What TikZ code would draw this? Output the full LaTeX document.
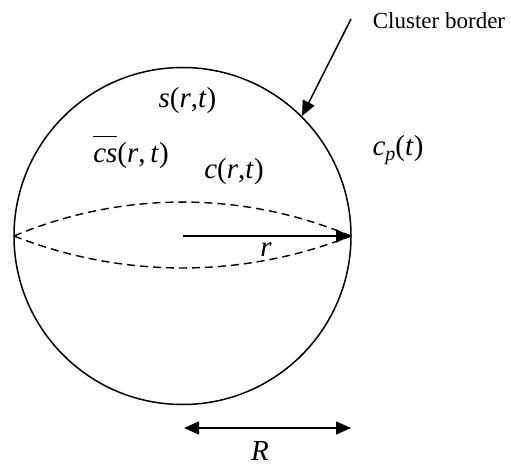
\documentclass[tikz,border=0pt]{standalone}
\usepackage{fontspec}
\setmainfont{Liberation Serif}
\usetikzlibrary{arrows.meta}
\tikzset{
  line/.style={line width=1.5pt},
  lbl/.style={inner sep=0pt, font=\fontsize{29}{32}\selectfont},
  small/.style={inner sep=0pt, font=\fontsize{23}{27}\selectfont},
  tip/.style={-{Triangle[length=15pt,width=13pt]}},
  dashline/.style={line width=1.4pt, dash pattern=on 8pt off 5pt}
}
\newcommand{\vi}[1]{\textit{#1}}
\begin{document}
\begin{tikzpicture}[x=1pt,y=-1pt]
\useasboundingbox (0,0) rectangle (511,468);
\coordinate (O) at (182.5,236);
\coordinate (E) at (351,236);
\coordinate (W) at (14,236);
\draw[line] (O) circle[radius=168.5];
% lens
\draw[dashline] (W) arc[start angle=-112.8, end angle=-67.2, radius=434.5];
\draw[dashline] (W) arc[start angle=111.5, end angle=68.5, radius=459.6];
% radius arrow
\draw[line, tip] (O) -- (E);
\node[lbl] (r) at (266,250) {\vi{r}};
% labels
\node[lbl] (s) at (187.5,101) {\vi{s}(\vi{r},\vi{t})};
\node[lbl] (cs) at (131,152) {$\overline{\hbox{\vi{cs}\rule{0pt}{0.85em}}}$(\vi{r},\,\vi{t})};
\node[lbl] (c) at (234,172) {\vi{c}(\vi{r},\vi{t})};
\node[lbl] (cp) at (398,150) {\vi{c}\raisebox{-0.35ex}{\vi{\fontsize{20}{21}\selectfont p}}(\vi{t})};
% cluster border
\node[small] (cb) at (439,21) {Cluster border};
\coordinate (cbs) at (351,19);
\coordinate (cbt) at (302,116);
\draw[line, tip] (cbs) -- (cbt);
% R dimension
\coordinate (Ra) at (184,428);
\coordinate (Rb) at (351,428);
\draw[line, {Triangle[length=15pt,width=13pt]}-{Triangle[length=15pt,width=13pt]}] (Ra) -- (Rb);
\node[lbl] (R) at (260,451) {\vi{R}};
\end{tikzpicture}
\end{document}
